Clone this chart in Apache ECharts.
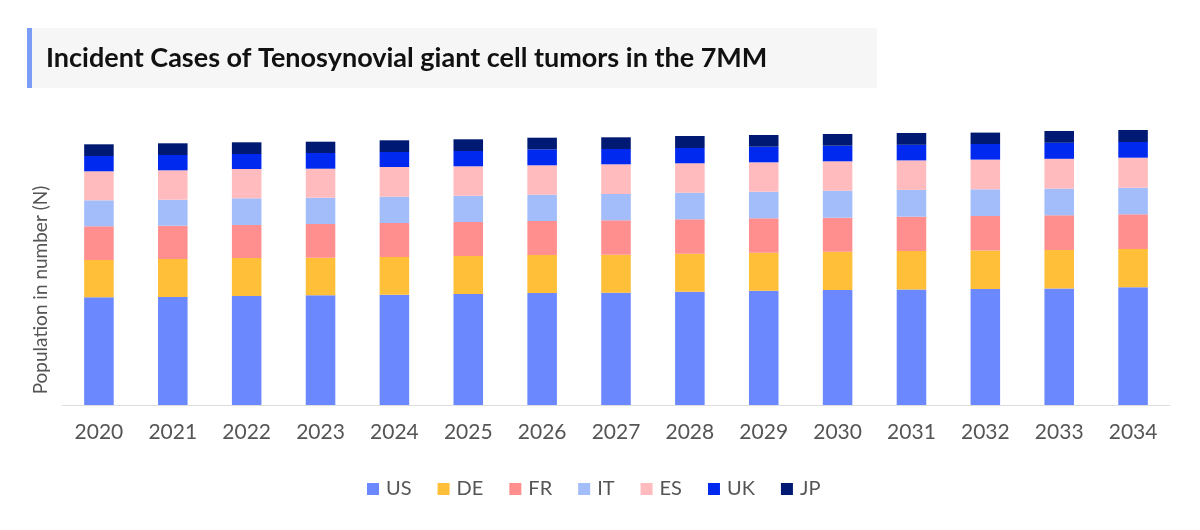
<!DOCTYPE html>
<html>
<head>
<meta charset="utf-8">
<script src="https://cdn.jsdelivr.net/npm/echarts@6/dist/echarts.min.js"></script>
<style>
html,body{margin:0;padding:0;background:#fff;}
#chart{width:1200px;height:530px;}
</style>
</head>
<body>
<div id="chart"></div>
<script>
const years = ['2020','2021','2022','2023','2024','2025','2026','2027','2028','2029','2030','2031','2032','2033','2034'];
const US = [10770,10800,10900,10970,11030,11100,11200,11230,11330,11430,11500,11550,11600,11650,11770];
const DE = [3730,3800,3800,3760,3770,3800,3800,3800,3800,3800,3830,3850,3840,3850,3830];
const FR = [3370,3330,3300,3370,3400,3400,3400,3440,3440,3440,3400,3430,3460,3470,3470];
const IT = [2600,2600,2670,2630,2630,2630,2630,2630,2660,2660,2700,2680,2670,2670,2660];
const ES = [2900,2940,2930,2900,2970,2940,2940,2970,2940,2940,2940,2950,2970,2980,3000];
const UK = [1530,1530,1500,1570,1500,1530,1600,1530,1530,1560,1560,1560,1560,1600,1570];
const JP = [1170,1170,1170,1130,1170,1170,1160,1170,1200,1170,1170,1180,1140,1180,1200];

const seriesNames = ['US','DE','FR','IT','ES','UK','JP'];
const seriesData = [US, DE, FR, IT, ES, UK, JP];
const colors = ['#6b88ff','#ffbf38','#ff8f8f','#a3bcfa','#ffbbbe','#0029ef','#001a73'];

const chart = echarts.init(document.getElementById('chart'));
chart.setOption({
  animation: false,
  color: colors,
  textStyle: { fontFamily: 'Lato' },
  graphic: [
    { type: 'rect', left: 27, top: 28, shape: { width: 850, height: 60 }, style: { fill: '#f6f6f6' } },
    { type: 'rect', left: 27, top: 28, shape: { width: 5, height: 60 }, style: { fill: '#7b9cf7' } },
    { type: 'text', x: 46, y: 58, style: { text: 'Incident Cases of Tenosynovial giant cell tumors in the 7MM', font: 'bold 27px Lato', fill: '#111111', verticalAlign: 'middle' } },
    { type: 'text', x: 41, y: 290, rotation: Math.PI / 2, style: { text: 'Population in number (N)', font: '19px Lato', fill: '#555555', align: 'center', verticalAlign: 'middle' } }
  ],
  legend: {
    top: 474,
    left: 362,
    itemWidth: 12,
    itemHeight: 12,
    itemGap: 26,
    icon: 'rect',
    textStyle: { fontSize: 20, color: '#555555', fontFamily: 'Lato', padding: [0, 0, 0, 2] },
    data: seriesNames
  },
  grid: { left: 62, right: 30, top: 105, bottom: 125 },
  xAxis: {
    type: 'category',
    data: years,
    axisTick: { show: false },
    axisLine: { lineStyle: { color: '#dddddd', width: 1 } },
    axisLabel: { fontSize: 21, color: '#555555', margin: 17, fontFamily: 'Lato' }
  },
  yAxis: {
    type: 'value',
    min: 0,
    max: 30000,
    show: true,
    axisLine: { show: false },
    axisTick: { show: false },
    axisLabel: { show: false },
    splitLine: { show: false }
  },
  series: seriesNames.map((n, i) => ({
    name: n,
    type: 'bar',
    stack: 'total',
    barWidth: '40%',
    data: seriesData[i],
    itemStyle: { color: colors[i] }
  }))
});
</script>
</body>
</html>
